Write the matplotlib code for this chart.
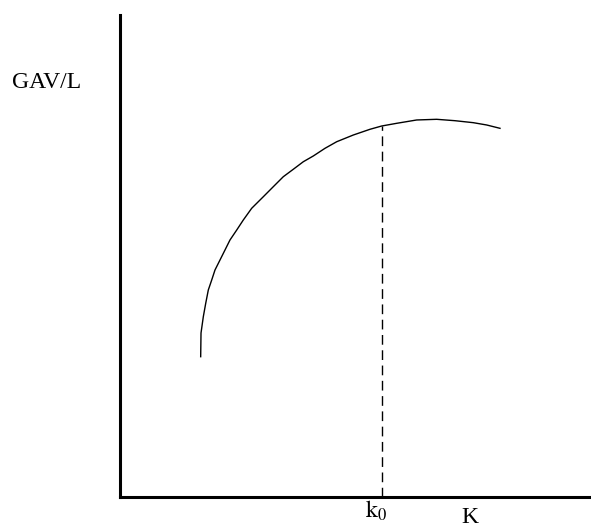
import numpy as np
import matplotlib
matplotlib.use('Agg')
import matplotlib.pyplot as plt

plt.rcParams['font.family'] = 'Liberation Serif'
plt.rcParams['mathtext.fontset'] = 'stix'

# curve GAV/L against K (axis units 0-100)
k_vals = [17.13, 17.20, 17.69, 18.20, 18.75, 19.47, 20.17, 21.23, 22.29, 23.35,
          24.78, 26.18, 27.96, 30.43, 32.55, 34.67, 36.79, 38.92, 41.04, 43.52,
          46.01, 49.53, 53.08, 55.56, 58.75, 62.99, 67.24, 71.13, 75.01, 77.86, 80.68]
gav_vals = [29.11, 34.02, 37.41, 40.19, 42.95, 45.02, 47.10, 49.17, 51.24, 53.32,
            55.39, 57.47, 59.90, 62.30, 64.38, 66.45, 67.99, 69.56, 70.75, 72.34,
            73.71, 75.10, 76.29, 76.97, 77.53, 78.22, 78.36, 78.07, 77.66, 77.18, 76.49]
k0 = 55.56
gav_k0 = 76.97

W, H = 591, 529
fig = plt.figure(figsize=(W / 100, H / 100), dpi=100)
ax = fig.add_axes([120 / W, (H - 497) / H, (W - 120) / W, (497 - 15) / H])

ax.plot(k_vals, gav_vals, color='black', linewidth=1.0, solid_joinstyle='round')
ax.plot([k0, k0], [0, gav_k0], color='black', linewidth=1.0, linestyle=(0, (7, 4)))

ax.set_xlim(0, 100)
ax.set_ylim(0, 100)
ax.set_xticks([])
ax.set_yticks([])
ax.spines['top'].set_visible(False)
ax.spines['right'].set_visible(False)
ax.spines['left'].set_linewidth(2.2)
ax.spines['bottom'].set_linewidth(2.2)

# labels
fig.text(12 / W, 1 - 88 / H, 'GAV/L', fontsize=17, va='baseline', ha='left')
fig.text(365 / W, 1 - 518 / H, r'$\mathrm{k}_0$', fontsize=17, va='baseline', ha='left')
fig.text(461 / W, 1 - 523 / H, 'K', fontsize=17, va='baseline', ha='left')

fig.savefig('out.png', dpi=100)
